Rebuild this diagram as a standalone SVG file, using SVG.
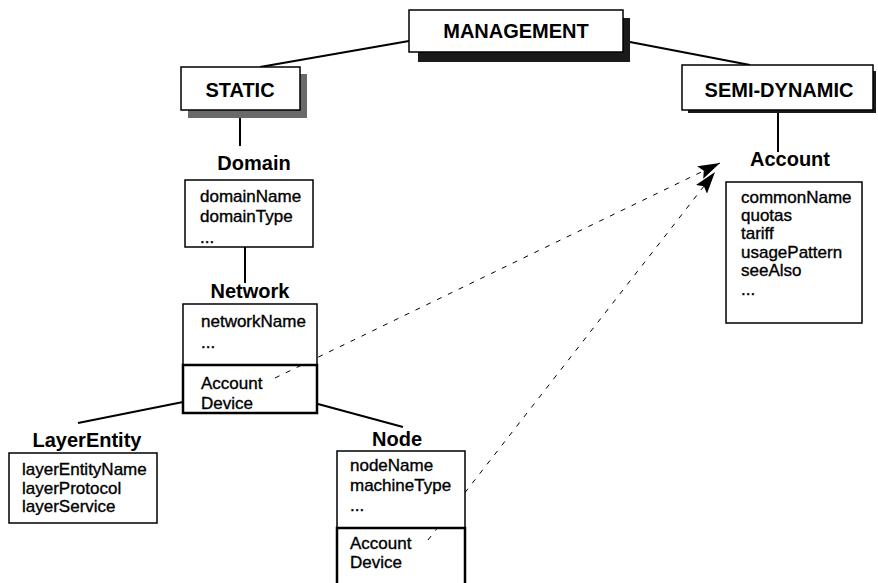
<svg xmlns="http://www.w3.org/2000/svg" width="878" height="583" viewBox="0 0 878 583">
<defs>
<style>
.bg{fill:#fff}
.box{fill:#fff;stroke:#000;stroke-width:1.5}
.title{font-family:"Liberation Sans",Arial,sans-serif;font-weight:bold;font-size:20px;text-anchor:middle;fill:#000}
.lbl{font-family:"Liberation Sans",Arial,sans-serif;font-weight:bold;font-size:20px;text-anchor:middle;fill:#000}
.attr{font-family:"Liberation Sans",Arial,sans-serif;font-size:17px;fill:#000;stroke:#000;stroke-width:0.35}
.shadow{fill:#1a1a1a}
.shadow2{fill:#6a6a6a}
.conn{stroke:#000;stroke-width:2;fill:none}
.dash{stroke:#000;stroke-width:1;fill:none;stroke-dasharray:5 7}
.thick{fill:none;stroke:#000;stroke-width:2.5}
</style>
<marker id="arr" viewBox="0 0 22 14" refX="22" refY="7" markerWidth="22" markerHeight="14" markerUnits="userSpaceOnUse" orient="auto">
<path d="M0,0 L22,7 L0,14 L4,7 z" fill="#000"/>
</marker>
</defs>
<rect class="bg" x="0" y="0" width="878" height="583"/>

<g id="connectors">
<line class="conn" x1="409" y1="41" x2="260" y2="67"/>
<line class="conn" x1="630" y1="42" x2="750" y2="65"/>
<line class="conn" x1="240" y1="118" x2="240" y2="146"/>
<line class="conn" x1="245" y1="247" x2="245" y2="283"/>
<line class="conn" x1="778" y1="113" x2="778" y2="152"/>
<line class="conn" x1="183" y1="402" x2="78" y2="423"/>
<line class="conn" x1="318" y1="404" x2="403" y2="427"/>
<line class="dash" x1="275" y1="378" x2="720" y2="163" marker-end="url(#arr)"/>
<line class="dash" x1="428" y1="540" x2="715" y2="172" marker-end="url(#arr)"/>
</g>

<g id="management">
<rect class="shadow" x="418" y="18" width="212" height="44"/>
<rect class="box" x="409" y="10" width="214" height="42"/>
<text class="title" x="516" y="38">MANAGEMENT</text>
</g>

<g id="static">
<rect class="shadow2" x="188" y="74" width="119" height="44"/>
<rect class="box" x="181" y="67" width="119" height="43"/>
<text class="title" x="240" y="97">STATIC</text>
</g>

<g id="semidynamic">
<rect class="shadow" x="688" y="71" width="188" height="42"/>
<rect class="box" x="682" y="65" width="191" height="45"/>
<text class="title" x="779" y="97">SEMI-DYNAMIC</text>
</g>

<g id="domain">
<text class="lbl" x="254" y="170">Domain</text>
<rect class="box" x="185" y="180" width="128" height="67"/>
<text class="attr" x="200" y="202">domainName</text>
<text class="attr" x="200" y="222">domainType</text>
<text class="attr" x="200" y="243">...</text>
</g>

<g id="network">
<text class="lbl" x="250" y="298">Network</text>
<rect class="box" x="183" y="304" width="134" height="61"/>
<rect class="thick" x="183" y="365" width="134" height="48"/>
<text class="attr" x="201" y="327">networkName</text>
<text class="attr" x="201" y="348">...</text>
<text class="attr" x="201" y="389">Account</text>
<text class="attr" x="201" y="409">Device</text>
</g>

<g id="account">
<text class="lbl" x="790" y="166">Account</text>
<rect class="box" x="726" y="182" width="136" height="141"/>
<text class="attr" x="741" y="203">commonName</text>
<text class="attr" x="741" y="221">quotas</text>
<text class="attr" x="741" y="239">tariff</text>
<text class="attr" x="741" y="258">usagePattern</text>
<text class="attr" x="741" y="276">seeAlso</text>
<text class="attr" x="741" y="295">...</text>
</g>

<g id="layerentity">
<text class="lbl" x="87" y="447">LayerEntity</text>
<rect class="box" x="9" y="453" width="148" height="70"/>
<text class="attr" x="22" y="475">layerEntityName</text>
<text class="attr" x="22" y="494">layerProtocol</text>
<text class="attr" x="22" y="512">layerService</text>
</g>

<g id="node">
<text class="lbl" x="397" y="446">Node</text>
<path class="box" d="M337,528 L337,451 L465,451 L465,528"/>
<path class="thick" d="M337,590 L337,528 L465,528 L465,590"/>
<text class="attr" x="350" y="471">nodeName</text>
<text class="attr" x="350" y="491">machineType</text>
<text class="attr" x="350" y="511">...</text>
<text class="attr" x="350" y="549">Account</text>
<text class="attr" x="350" y="568">Device</text>
</g>
</svg>
